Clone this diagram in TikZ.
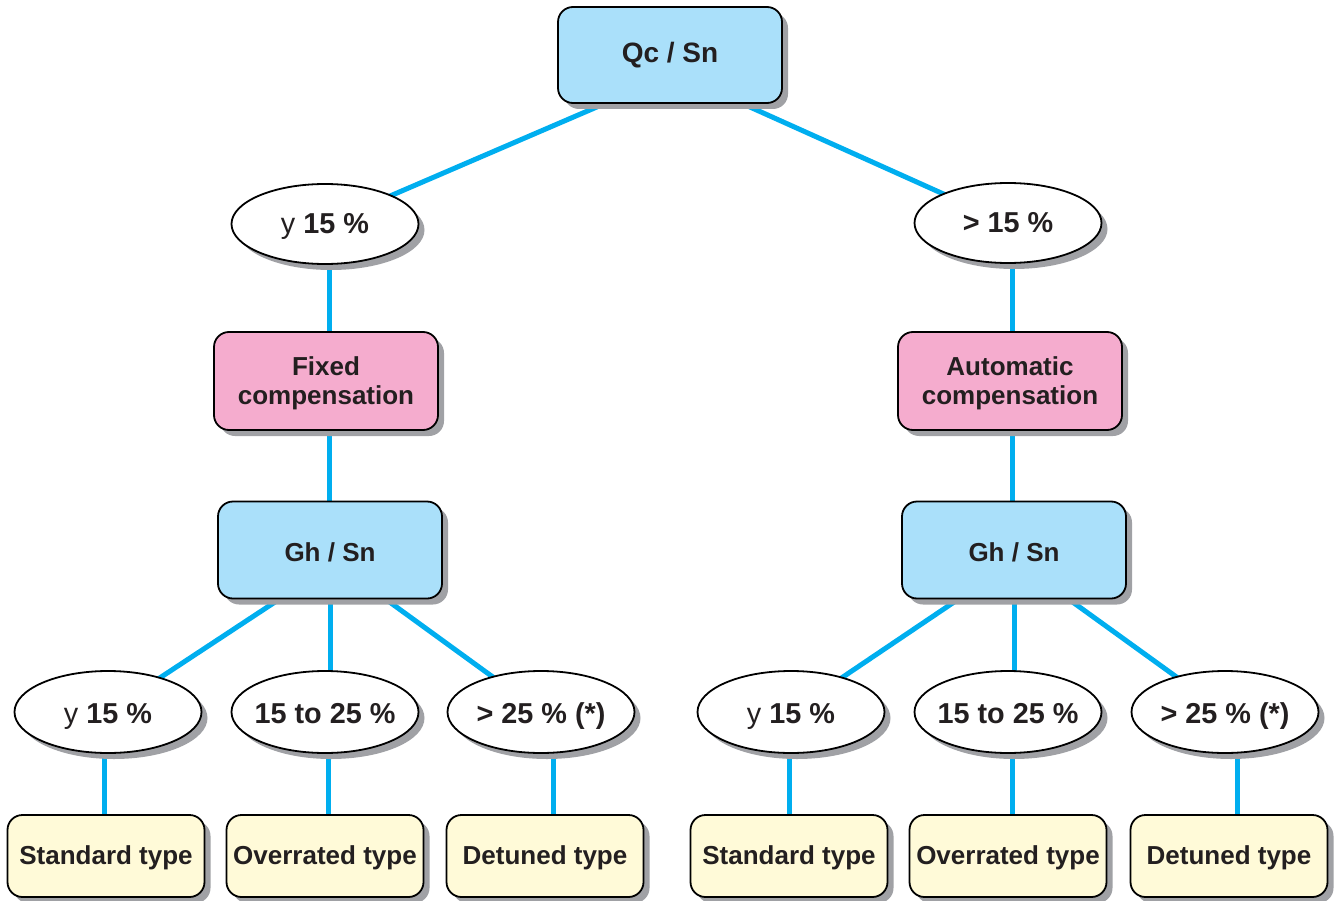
\documentclass[tikz,border=0pt]{standalone}
\usepackage{fontspec}
\setmainfont{Liberation Sans}
\usetikzlibrary{shapes.geometric,shadows,backgrounds,calc}
\definecolor{boxblue}{RGB}{170,224,250}
\definecolor{boxpink}{RGB}{245,172,206}
\definecolor{boxyellow}{RGB}{255,250,216}
\definecolor{linkcyan}{RGB}{0,174,239}
\definecolor{shadowgray}{RGB}{160,161,165}
\definecolor{textdark}{RGB}{35,31,32}
\newcommand{\ovaltext}[1]{\makebox[0pt]{#1}}
\tikzset{
  shad/.style={drop shadow={shadow xshift=6pt,shadow yshift=-6pt,fill=shadowgray,opacity=1}},
  basebox/.style={draw=black,line width=1.8pt,rounded corners=15pt,shad,inner sep=0pt,align=center,text=textdark},
  bluebox/.style={basebox,fill=boxblue,minimum width=224pt,minimum height=97pt,font=\fontsize{26}{28.3}\selectfont\bfseries,text height=23.4pt,text depth=0pt},
  qcbox/.style={basebox,fill=boxblue,minimum width=224pt,minimum height=96pt,font=\fontsize{28}{31}\selectfont\bfseries,text height=14.6pt,text depth=0pt},
  pinkbox/.style={basebox,fill=boxpink,minimum width=224pt,minimum height=98pt,font=\fontsize{26}{28.3}\selectfont\bfseries},
  leafbox/.style={basebox,fill=boxyellow,minimum width=197pt,minimum height=82pt,font=\fontsize{26}{29}\selectfont\bfseries,text height=16.6pt,text depth=0pt},
  oval/.style={ellipse,draw=black,line width=1.8pt,fill=white,shad,inner sep=0pt,minimum width=187pt,minimum height=80pt,text=textdark,font=\fontsize{28.8}{32}\selectfont,text depth=0pt},
  ovaltop/.style={oval,text height=19pt},
  ovalbot/.style={oval,minimum height=82pt,text height=22.6pt},
  link/.style={draw=linkcyan,line width=5pt}
}
\begin{document}
\begin{tikzpicture}[x=1pt,y=-1pt]
\useasboundingbox (0,0) rectangle (1337,901);
% top
\node[qcbox] (qc) at (670,55) {Qc / Sn};
\node[ovaltop] (e1) at (325,224) {\ovaltext{y \textbf{15 \%}}};
\node[ovaltop] (e2) at (1008,223) {\ovaltext{\textbf{> 15 \%}}};
\node[pinkbox] (f1) at (326,381) {\rule{0pt}{23.2pt}Fixed\\compensation};
\node[pinkbox] (f2) at (1010,381) {\rule{0pt}{23.2pt}Automatic\\compensation};
\node[bluebox] (g1) at (330,550) {Gh / Sn};
\node[bluebox] (g2) at (1014,550) {Gh / Sn};
% bottom ellipses
\node[ovalbot] (e11) at (108,712) {\ovaltext{y \textbf{15 \%}}};
\node[ovalbot] (e12) at (325,712) {\ovaltext{\textbf{15 to 25 \%}}};
\node[ovalbot] (e13) at (541,712) {\ovaltext{\textbf{> 25 \% (*)}}};
\node[ovalbot] (e21) at (791,712) {\ovaltext{y \textbf{15 \%}}};
\node[ovalbot] (e22) at (1008,712) {\ovaltext{\textbf{15 to 25 \%}}};
\node[ovalbot] (e23) at (1225,712) {\ovaltext{\textbf{> 25 \% (*)}}};
% leaves
\node[leafbox] (b11) at (106,856) {Standard type};
\node[leafbox] (b12) at (325,856) {Overrated type};
\node[leafbox] (b13) at (545,856) {Detuned type};
\node[leafbox] (b21) at (789,856) {Standard type};
\node[leafbox] (b22) at (1008,856) {Overrated type};
\node[leafbox] (b23) at (1229,856) {Detuned type};
\begin{pgfonlayer}{background}
\draw[link] ($(qc.south)+(-66,0)$) -- (e1.center);
\draw[link] ($(qc.south)+(73,0)$) -- (e2.center);
\draw[link] ($(e1.center)+(4,0)$) -- ($(e1.center |- f1.center)+(4,0)$);
\draw[link] ($(e2.center)+(4,0)$) -- ($(e2.center |- f2.center)+(4,0)$);
\draw[link] ($(f1.center)+(3,0)$) -- ($(f1.center |- g1.center)+(3,0)$);
\draw[link] ($(f2.center)+(2,0)$) -- ($(f2.center |- g2.center)+(2,0)$);
\draw[link] ($(g1.south)+(-51,0)$) -- (e11.center);
\draw[link] (g1.center) -- (g1.center |- e12.center);
\draw[link] ($(g1.south)+(56,0)$) -- (e13.center);
\draw[link] ($(g2.south)+(-56,0)$) -- (e21.center);
\draw[link] (g2.center) -- (g2.center |- e22.center);
\draw[link] ($(g2.south)+(55,0)$) -- (e23.center);
\draw[link] ($(e11.center)+(-4,0)$) -- ($(e11.center |- b11.center)+(-4,0)$);
\draw[link] ($(e12.center)+(3,0)$) -- ($(e12.center |- b12.center)+(3,0)$);
\draw[link] ($(e13.center)+(12,0)$) -- ($(e13.center |- b13.center)+(12,0)$);
\draw[link] ($(e21.center)+(-2,0)$) -- ($(e21.center |- b21.center)+(-2,0)$);
\draw[link] ($(e22.center)+(4,0)$) -- ($(e22.center |- b22.center)+(4,0)$);
\draw[link] ($(e23.center)+(12,0)$) -- ($(e23.center |- b23.center)+(12,0)$);
\end{pgfonlayer}
\end{tikzpicture}
\end{document}
